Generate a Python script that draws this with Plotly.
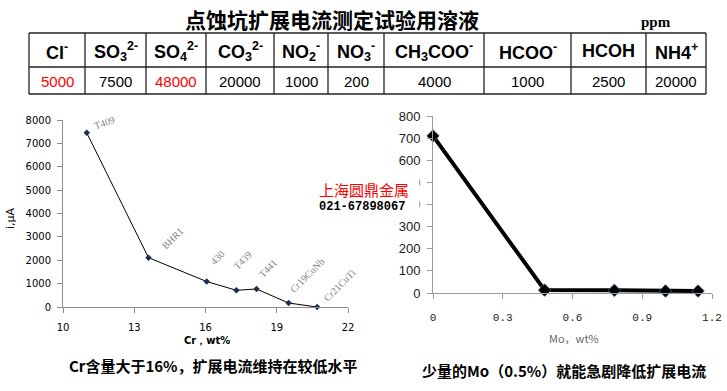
import plotly.graph_objects as go

W, H = 727, 391

# ---------------- data ----------------
ion_labels = ["Cl<sup>-</sup>", "SO<sub>3</sub><sup>2-</sup>", "SO<sub>4</sub><sup>2-</sup>",
              "CO<sub>3</sub><sup>2-</sup>", "NO<sub>2</sub><sup>-</sup>", "NO<sub>3</sub><sup>-</sup>",
              "CH<sub>3</sub>COO<sup>-</sup>", "HCOO<sup>-</sup>", "HCOH", "NH4<sup>+</sup>"]
ion_ppm = ["5000", "7500", "48000", "20000", "1000", "200", "4000", "1000", "2500", "20000"]
ion_colors = ["red", "black", "red", "black", "black", "black", "black", "black", "black", "black"]
col_widths = [56, 61, 60, 68, 54, 56, 100, 87, 75, 60]

cr_wt = [11.0, 13.6, 16.05, 17.3, 18.15, 19.5, 20.7]
cr_current = [7450, 2110, 1090, 715, 770, 170, 0]
cr_grades = ["T409", "BHR1", "430", "T439", "T441", "Cr19CuNb", "Cr21CuTi"]
grade_shift_x = [18, 24, 11, 6, 11, 18, 22]
grade_shift_y = [10, 19, 24, 30, 21, 28, 22]
grade_angle = [-20, -45, -45, -45, -45, -45, -45]

mo_wt = [0.0, 0.48, 0.78, 1.0, 1.14]
mo_current = [710, 13, 12, 9, 9]

cr_xticks = [10, 13, 16, 19, 22]
cr_yticks = [0, 1000, 2000, 3000, 4000, 5000, 6000, 7000, 8000]
mo_xticks = [0, 0.3, 0.6, 0.9, 1.2]
mo_xticklabels = ["0", "0.3", "0.6", "0.9", "1.2"]
mo_yticks = [0, 100, 200, 300, 400, 500, 600, 700, 800]


def px(x):
    return x / W


def py(y):
    return 1 - y / H


fig = go.Figure()

# ---------------- left chart: Cr ----------------
fig.add_trace(go.Scatter(
    x=cr_wt, y=cr_current, mode="lines+markers",
    line=dict(color="black", width=1),
    marker=dict(symbol="diamond", size=5, color="#1a2f55"),
    xaxis="x", yaxis="y", cliponaxis=False, showlegend=False,
))

# ---------------- right chart: Mo ----------------
fig.add_trace(go.Scatter(
    x=mo_wt, y=mo_current, mode="lines+markers",
    line=dict(color="black", width=4),
    marker=dict(symbol="diamond", size=9.5, color="black",
                line=dict(color="#34507a", width=1)),
    xaxis="x2", yaxis="y2", cliponaxis=False, showlegend=False,
))

axis_common = dict(showgrid=False, zeroline=False, showline=True,
                   ticks="outside", ticklen=5, automargin=False)

fig.update_layout(
    width=W, height=H, margin=dict(l=0, r=0, t=0, b=0, pad=0, autoexpand=False),
    paper_bgcolor="white", plot_bgcolor="white",
    xaxis=dict(domain=[px(63), px(348)], range=[10, 22], tickvals=cr_xticks,
               linecolor="#8c8c8c", tickcolor="#8c8c8c", anchor="y",
               tickfont=dict(family="DejaVu Sans", size=10, color="black"),
               ticklabelstandoff=6, **axis_common),
    yaxis=dict(domain=[py(307), py(120)], range=[0, 8000], tickvals=cr_yticks,
               linecolor="#8c8c8c", tickcolor="#8c8c8c", anchor="x",
               tickfont=dict(family="DejaVu Sans", size=10, color="black"),
               ticklabelstandoff=4, **axis_common),
    xaxis2=dict(domain=[px(433), px(712)], range=[0, 1.2], tickvals=mo_xticks,
                ticktext=mo_xticklabels,
                linecolor="#9a9a9a", tickcolor="#9a9a9a", anchor="y2",
                tickfont=dict(family="Liberation Mono", size=11, color="#222"),
                ticklabelstandoff=9, **axis_common),
    yaxis2=dict(domain=[py(293), py(116)], range=[0, 800], tickvals=mo_yticks,
                linecolor="#9a9a9a", tickcolor="#9a9a9a", anchor="x2",
                tickfont=dict(family="Liberation Sans Narrow, Liberation Sans", size=13, color="#222"),
                ticklabelstandoff=4, **axis_common),
)


def note(text, x, y, size, family, color="black", angle=0, **kw):
    d = dict(text=text, x=px(x), y=py(y), xref="paper", yref="paper",
             xanchor="center", yanchor="middle", showarrow=False, textangle=angle,
             font=dict(family=family, size=size, color=color))
    d.update(kw)
    return d


ann = []
shapes = []

# ---------------- table (lines + cell texts) ----------------
tbl_left, tbl_top, tbl_mid, tbl_bot = 29, 33, 67, 94
edges = [tbl_left]
for w in col_widths:
    edges.append(edges[-1] + w)
line_style = dict(color="#222", width=1.3)
for yy in (tbl_top, tbl_mid, tbl_bot):
    shapes.append(dict(type="line", xref="paper", yref="paper",
                       x0=px(edges[0]), x1=px(edges[-1]), y0=py(yy), y1=py(yy), line=line_style))
for xx in edges:
    shapes.append(dict(type="line", xref="paper", yref="paper",
                       x0=px(xx), x1=px(xx), y0=py(tbl_top), y1=py(tbl_bot), line=line_style))
for i, (lab, val, col) in enumerate(zip(ion_labels, ion_ppm, ion_colors)):
    cx = (edges[i] + edges[i + 1]) / 2
    ann.append(note("<b>%s</b>" % lab, cx, 51, 18, "Liberation Sans"))
    ann.append(note(val, cx, 81, 15, "Liberation Sans", color=col))

# title and unit
ann.append(note("<b>点蚀坑扩展电流测定试验用溶液</b>", 332, 19, 21, "Noto Sans CJK SC"))
ann.append(note("<b>ppm</b>", 656, 22, 15, "Liberation Serif"))

# grade labels
for xv, yv, t, sx, sy, a in zip(cr_wt, cr_current, cr_grades, grade_shift_x, grade_shift_y, grade_angle):
    ann.append(dict(text=t, x=xv, y=yv, xref="x", yref="y", showarrow=False,
                    xanchor="center", yanchor="middle",
                    xshift=sx, yshift=sy, textangle=a,
                    font=dict(family="Liberation Serif", size=10, color="#7f7f7f")))

# axis titles
ann.append(note("i,μA", 10, 218, 11, "DejaVu Sans", angle=-90))
ann.append(note("<b>Cr，wt%</b>", 207, 340, 10, "DejaVu Sans"))
ann.append(note("i,μA", 386, 205, 12, "Liberation Serif", color="#333", angle=-90))
ann.append(note("Mo，wt%", 574, 338, 11, "Noto Sans CJK SC", color="#666"))

# captions
ann.append(note("<b>Cr含量大于16%，扩展电流维持在较低水平</b>", 213, 365, 15, "Noto Sans CJK SC"))
ann.append(note("<b>少量的Mo（0.5%）就能急剧降低扩展电流</b>", 564, 370, 15, "Noto Sans CJK SC"))

# watermark
ann.append(note("上海圆鼎金属", 318, 189, 15, "Noto Sans CJK SC", color="red",
                xanchor="left", width=100, height=22, align="left",
                bgcolor="white", borderpad=0))
ann.append(note("<b>021-67898067</b>", 318, 207, 12, "Liberation Mono",
                xanchor="left", width=100, height=16, align="left",
                bgcolor="white", borderpad=0))

fig.update_layout(annotations=ann, shapes=shapes)

fig.write_html("out.html", config={"displayModeBar": False},
               post_script="document.body.style.margin='0px';")
